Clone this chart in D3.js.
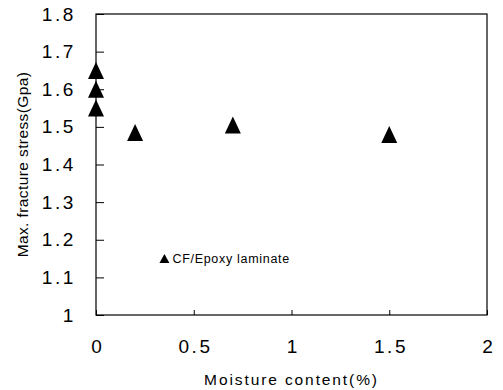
<!DOCTYPE html>
<html>
<head>
<meta charset="utf-8">
<script src="https://cdn.jsdelivr.net/npm/d3@7"></script>
<style>
  body { margin: 0; background: #fff; }
  text { font-family: "Liberation Sans", Arial, sans-serif; fill: #000; }
</style>
</head>
<body>
<div class="container"></div>
<script>
// data
const moisture = [0, 0, 0, 0.2, 0.7, 1.5];
const stress = [1.65, 1.6, 1.55, 1.485, 1.505, 1.48];
const xTicks = [0, 0.5, 1, 1.5, 2];
const yTicks = [1, 1.1, 1.2, 1.3, 1.4, 1.5, 1.6, 1.7, 1.8];
const seriesName = "CF/Epoxy laminate";

const WIDTH = 503, HEIGHT = 390;
const MARGIN = { top: 14, right: 16, bottom: 75, left: 96 };

// triangle centred on its box, not on its centroid
const triangle = (w, h) => ({
  draw(ctx) {
    ctx.moveTo(0, -h / 2);
    ctx.lineTo(w / 2, h / 2);
    ctx.lineTo(-w / 2, h / 2);
    ctx.closePath();
  }
});

const svg = d3.select(".container").append("svg")
  .attr("width", WIDTH)
  .attr("height", HEIGHT);

const x = d3.scaleLinear()
  .domain([0, 2])
  .range([MARGIN.left, WIDTH - MARGIN.right]);

const y = d3.scaleLinear()
  .domain([1, 1.8])
  .range([HEIGHT - MARGIN.bottom, MARGIN.top]);

// x axis, ticks point up into the plot
const xAxis = svg.append("g")
  .attr("transform", `translate(0,${HEIGHT - MARGIN.bottom})`)
  .call(d3.axisBottom(x)
    .tickValues(xTicks)
    .tickFormat(d => String(d))
    .tickSize(-5)
    .tickSizeOuter(0)
    .tickPadding(25));
xAxis.select(".domain").remove();
xAxis.selectAll(".tick line").attr("stroke", "#000");
xAxis.selectAll("text")
  .attr("font-size", 19)
  .attr("letter-spacing", 2.6)
  .attr("dx", 1.3);

// y axis, ticks point right into the plot
const yAxis = svg.append("g")
  .attr("transform", `translate(${MARGIN.left},0)`)
  .call(d3.axisLeft(y)
    .tickValues(yTicks)
    .tickFormat(d => String(d))
    .tickSize(-8)
    .tickSizeOuter(0)
    .tickPadding(20));
yAxis.select(".domain").remove();
yAxis.selectAll(".tick line").attr("stroke", "#000");
yAxis.selectAll("text")
  .attr("font-size", 19)
  .attr("letter-spacing", 2.6);

// frame
svg.append("rect")
  .attr("x", x(0))
  .attr("y", y(1.8))
  .attr("width", x(2) - x(0))
  .attr("height", y(1) - y(1.8))
  .attr("fill", "none")
  .attr("stroke", "#000")
  .attr("stroke-width", 1.2);

// points
svg.append("g")
  .selectAll("path")
  .data(moisture)
  .enter()
  .append("path")
  .attr("transform", (d, i) => `translate(${x(d)},${y(stress[i])})`)
  .attr("d", d3.symbol().type(triangle(16, 17))())
  .attr("fill", "#000");

// legend
svg.append("path")
  .attr("transform", `translate(${x(0.35)},${y(1.15)})`)
  .attr("d", d3.symbol().type(triangle(10, 9))())
  .attr("fill", "#000");
svg.append("text")
  .attr("x", x(0.35) + 8)
  .attr("y", y(1.15) + 4)
  .attr("font-size", 12.5)
  .attr("letter-spacing", 0.7)
  .text(seriesName);

// axis titles
svg.append("text")
  .attr("x", (x(0) + x(2)) / 2)
  .attr("y", 385)
  .attr("text-anchor", "middle")
  .attr("font-size", 15.5)
  .attr("letter-spacing", 1.9)
  .text("Moisture content(%)");

svg.append("text")
  .attr("transform", `translate(28,${(y(1) + y(1.8)) / 2}) rotate(-90)`)
  .attr("text-anchor", "middle")
  .attr("font-size", 15.5)
  .attr("letter-spacing", 0.4)
  .text("Max. fracture stress(Gpa)");
</script>
</body>
</html>
